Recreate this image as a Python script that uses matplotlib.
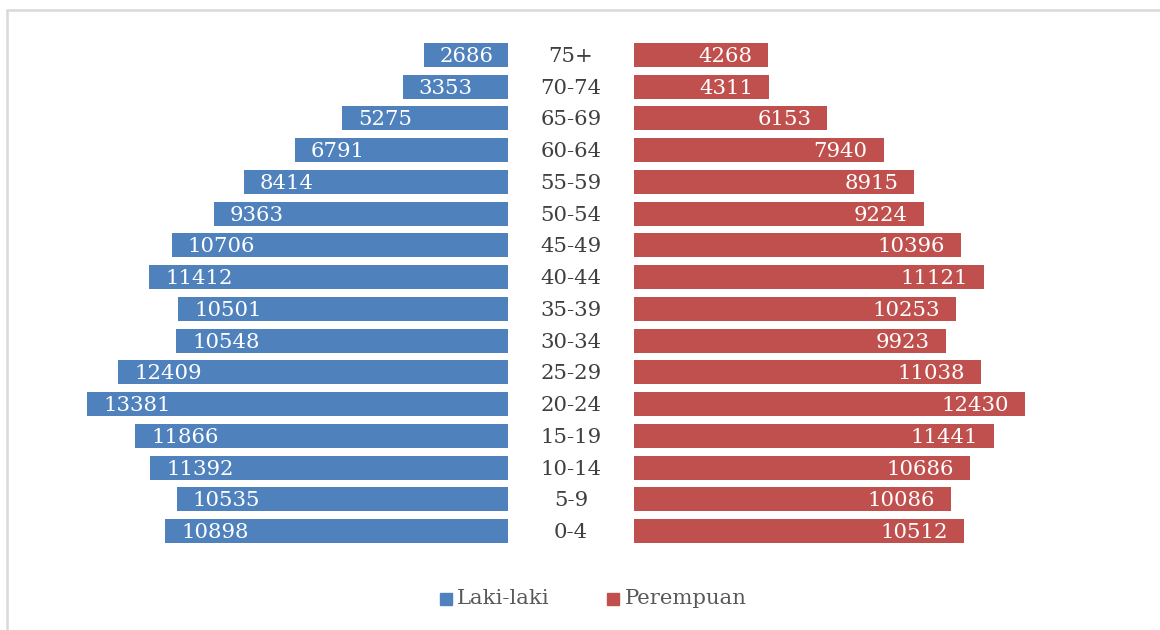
import matplotlib.pyplot as plt
from matplotlib.patches import Rectangle

# Age groups from the bottom up
age_groups = ["0-4", "5-9", "10-14", "15-19", "20-24", "25-29", "30-34", "35-39",
              "40-44", "45-49", "50-54", "55-59", "60-64", "65-69", "70-74", "75+"]
laki_laki = [10898, 10535, 11392, 11866, 13381, 12409, 10548, 10501,
             11412, 10706, 9363, 8414, 6791, 5275, 3353, 2686]
perempuan = [10512, 10086, 10686, 11441, 12430, 11038, 9923, 10253,
             11121, 10396, 9224, 8915, 7940, 6153, 4311, 4268]

blue = "#4F81BD"
red = "#C0504D"
font = "DejaVu Serif"
fs = 15.3
W, H = 1160, 630

fig = plt.figure(figsize=(W / 100, H / 100), dpi=100)

# outer chart border (gray), only top and left edges visible
fig.patches.append(Rectangle((7 / W, -0.2), 1.2, 0.2 + (H - 10) / H, transform=fig.transFigure,
                             fill=False, edgecolor="#D9D9D9", linewidth=1.8))

xmax = 14000
scale = 0.03143  # pixels per person
bottom = 1 - 547 / H
height = (547 - 39) / H
left_w = xmax * scale / W
ax_l = fig.add_axes([508 / W - left_w, bottom, left_w, height])
ax_r = fig.add_axes([634 / W, bottom, left_w, height])

y = list(range(len(age_groups)))
pad = 16 / scale

ax_l.barh(y, laki_laki, height=0.76, color=blue)
ax_l.set_xlim(xmax, 0)
for yi, v in zip(y, laki_laki):
    ax_l.text(v - pad, yi - 0.05, str(v), ha="left", va="center", color="white",
              fontsize=fs, family=font)

ax_r.barh(y, perempuan, height=0.76, color=red)
ax_r.set_xlim(0, xmax)
for yi, v in zip(y, perempuan):
    ax_r.text(v - pad, yi - 0.05, str(v), ha="right", va="center", color="white",
              fontsize=fs, family=font)

for ax in (ax_l, ax_r):
    ax.set_ylim(-0.5, len(age_groups) - 0.5)
    ax.axis("off")

# age labels in the middle
for yi, lab in zip(y, age_groups):
    ax_r.text(-63 / scale, yi - 0.05, lab, ha="center", va="center", color="#404040",
              fontsize=fs, family=font, clip_on=False)

# legend
fig.patches.append(Rectangle((440 / W, 1 - 605 / H), 12 / W, 12 / H,
                             transform=fig.transFigure, color=blue))
fig.text(457 / W, 1 - 598 / H, "Laki-laki", ha="left", va="center",
         color="#595959", fontsize=fs, family=font)
fig.patches.append(Rectangle((607 / W, 1 - 605 / H), 12 / W, 12 / H,
                             transform=fig.transFigure, color=red))
fig.text(625 / W, 1 - 598 / H, "Perempuan", ha="left", va="center",
         color="#595959", fontsize=fs, family=font)

fig.savefig("out.png", dpi=100)
